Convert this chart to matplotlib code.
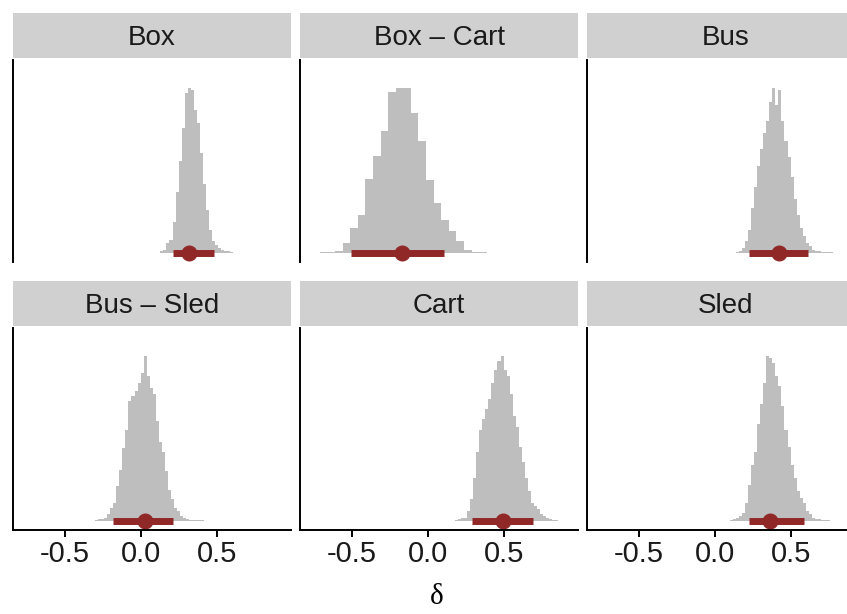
import numpy as np
from matplotlib import pyplot as plt

plt.rcParams['font.family'] = ['Liberation Sans', 'DejaVu Sans']

panels = ['Box', 'Box \u2013 Cart', 'Bus', 'Bus \u2013 Sled', 'Cart', 'Sled']

# histogram bins (height relative to the panel peak)
bin_start = [0.13, -0.71, 0.14, -0.30, 0.18, 0.10]
bin_width = [0.02, 0.05, 0.02, 0.02, 0.02, 0.02]

box_h = [0.01, 0.02, 0.06, 0.08, 0.19, 0.37, 0.56, 0.76, 0.97, 1.0, 0.99, 0.87,
         0.79, 0.61, 0.42, 0.26, 0.14, 0.07, 0.05, 0.03, 0.02, 0.01, 0.01, 0.005]
box_cart_h = [0.003, 0.005, 0.01, 0.06, 0.15, 0.23, 0.45, 0.59, 0.74, 0.98, 1.0,
              1.0, 0.85, 0.68, 0.44, 0.30, 0.20, 0.13, 0.07, 0.02, 0.005, 0.003]
bus_h = [0.005, 0.01, 0.03, 0.07, 0.14, 0.27, 0.40, 0.53, 0.63, 0.73, 0.80, 0.92,
         1.0, 0.90, 0.99, 0.80, 0.68, 0.58, 0.46, 0.33, 0.23, 0.15, 0.10, 0.06,
         0.04, 0.02, 0.01, 0.008, 0.005, 0.003, 0.002, 0.002]
bus_sled_h = [0.005, 0.01, 0.01, 0.02, 0.04, 0.08, 0.11, 0.21, 0.31, 0.44, 0.55,
              0.73, 0.76, 0.79, 0.84, 0.90, 1.0, 0.88, 0.81, 0.77, 0.61, 0.48,
              0.42, 0.30, 0.19, 0.13, 0.08, 0.06, 0.03, 0.02, 0.01, 0.005, 0.004,
              0.003, 0.002, 0.002]
cart_h = [0.005, 0.01, 0.015, 0.02, 0.06, 0.13, 0.26, 0.42, 0.55, 0.62, 0.68, 0.74,
          0.84, 0.92, 0.97, 1.0, 0.92, 0.88, 0.77, 0.64, 0.57, 0.45, 0.36, 0.26,
          0.18, 0.11, 0.09, 0.07, 0.04, 0.03, 0.02, 0.01, 0.005, 0.003]
sled_h = [0.005, 0.01, 0.015, 0.03, 0.05, 0.11, 0.22, 0.34, 0.42, 0.59, 0.71, 0.84,
          1.0, 0.99, 0.96, 0.88, 0.82, 0.70, 0.55, 0.45, 0.34, 0.26, 0.18, 0.14,
          0.11, 0.06, 0.04, 0.02, 0.01, 0.008, 0.005, 0.003, 0.002]
heights = [box_h, box_cart_h, bus_h, bus_sled_h, cart_h, sled_h]

# point estimate and interval
lower = [0.21, -0.507, 0.224, -0.182, 0.292, 0.224]
point = [0.316, -0.169, 0.425, 0.028, 0.495, 0.362]
upper = [0.48, 0.107, 0.612, 0.213, 0.693, 0.586]

xticks = [-0.5, 0.0, 0.5]
xtick_labels = ['-0.5', '0.0', '0.5']

slab_col = '#bebebe'
red = '#912828'
strip_col = '#d0d0d0'

W, H = 847, 614
fig = plt.figure(figsize=(W / 100, H / 100), dpi=100)

lefts = [13, 300, 587]
panel_w = 278
row_top = [60, 328]
panel_h = 202
strip_h = 45

for i, name in enumerate(panels):
    r, c = divmod(i, 3)
    x0 = lefts[c]
    y_top = row_top[r]
    ax = fig.add_axes([x0 / W, (H - y_top - panel_h) / H, panel_w / W, panel_h / H])

    h = np.array(heights[i])
    edges = bin_start[i] + bin_width[i] * np.arange(len(h) + 1)
    ax.stairs(h, edges, fill=True, color=slab_col, lw=0)

    ax.plot([lower[i], upper[i]], [0, 0], color=red, lw=5, solid_capstyle='butt')
    ax.plot(point[i], 0, 'o', color=red, ms=10.5, mec=red)

    ax.set_xlim(-0.84, 0.99)
    ax.set_ylim(-0.056, 1.173)
    ax.set_yticks([])
    for s in ['top', 'right']:
        ax.spines[s].set_visible(False)
    ax.spines['left'].set_linewidth(1.4)
    if r == 0:
        ax.spines['bottom'].set_visible(False)
        ax.set_xticks([])
    else:
        ax.spines['bottom'].set_linewidth(1.4)
        ax.set_xticks(xticks)
        ax.set_xticklabels(xtick_labels)
        ax.tick_params(axis='x', length=5, width=1.4, pad=2, labelsize=21,
                       labelcolor='#1a1a1a')

    sax = fig.add_axes([x0 / W, (H - y_top + 2) / H, panel_w / W, strip_h / H])
    sax.set_facecolor(strip_col)
    sax.set_xticks([])
    sax.set_yticks([])
    for s in sax.spines.values():
        s.set_visible(False)
    sax.text(0.5, 0.44, name, ha='center', va='center', fontsize=20,
             color='#1a1a1a', transform=sax.transAxes)

fig.text(437 / W, (H - 597) / H, '\u03b4', ha='center', va='center',
         fontsize=21, family=['Liberation Serif', 'DejaVu Serif'])

plt.savefig('out.png', dpi=100)
